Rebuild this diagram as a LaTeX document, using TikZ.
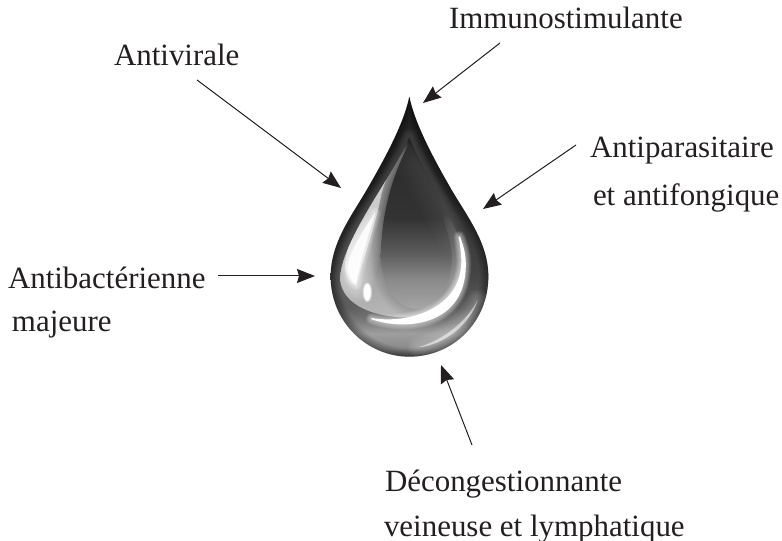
\documentclass[tikz,border=0pt]{standalone}
\usepackage{fontspec}
\setmainfont{Liberation Serif}
\usetikzlibrary{arrows.meta}
\definecolor{ink}{HTML}{231F20}
\definecolor{g22}{gray}{.13}\definecolor{g2a}{gray}{.165}\definecolor{g40}{gray}{.25}\definecolor{g44}{gray}{.27}
\definecolor{g5a}{gray}{.36}\definecolor{g66}{gray}{.42}\definecolor{g77}{gray}{.47}\definecolor{g8a}{gray}{.54}
\definecolor{g9a}{gray}{.62}\definecolor{ga5}{gray}{.65}\definecolor{gb5}{gray}{.72}\definecolor{g38}{gray}{.2}
\pgfdeclareverticalshading{bodyshade}{100bp}{color(0bp)=(g5a); color(25bp)=(g5a); color(26.5bp)=(g8a); color(29.5bp)=(g9a); color(32bp)=(g77); color(34.5bp)=(g5a); color(40.5bp)=(g44); color(59bp)=(g2a); color(75bp)=(g22); color(100bp)=(g22)}
\pgfdeclareverticalshading{lensshade}{100bp}{color(0bp)=(gb5); color(25bp)=(gb5); color(35.5bp)=(ga5); color(44.5bp)=(g77); color(53.5bp)=(g40); color(75bp)=(g2a); color(100bp)=(g2a)}
\pgfdeclareverticalshading{colshade}{100bp}{color(0bp)=(ga5); color(25bp)=(ga5); color(34bp)=(g8a); color(42bp)=(g5a); color(52.5bp)=(g38); color(75bp)=(g2a); color(100bp)=(g2a)}
\newcommand{\dropoutline}{(298,50) .. controls (282,130) and (225,235) .. (170,330) .. controls (120,415) and (62,490) .. (62,590) .. controls (62,725) and (170,830) .. (298,830) .. controls (430,830) and (535,725) .. (535,590) .. controls (535,490) and (475,415) .. (425,330) .. controls (370,235) and (314,130) .. (298,50) -- cycle}
\newcommand{\lensoutline}{(298,170) .. controls (270,260) and (90,480) .. (90,600) .. controls (100,680) and (200,712) .. (290,712) .. controls (390,712) and (462,640) .. (462,540) .. controls (462,450) and (330,270) .. (298,170) -- cycle}
\newcommand{\lefthigh}{(262,225) .. controls (225,300) and (110,440) .. (105,560) .. controls (108,590) and (120,610) .. (138,618) .. controls (165,520) and (200,420) .. (215,340) .. controls (225,300) and (250,250) .. (262,225) -- cycle}
\newcommand{\crescent}{(185,716) .. controls (290,752) and (475,735) .. (465,540) .. controls (463,510) and (455,490) .. (448,470) .. controls (452,495) and (456,520) .. (456,545) .. controls (455,690) and (290,735) .. (185,716) -- cycle}
\newcommand{\streak}{(325,802) .. controls (400,795) and (480,735) .. (503,660) .. controls (470,725) and (400,780) .. (325,802) -- cycle}
\tikzset{
  lbl/.style={anchor=base west,inner sep=0pt,outer sep=0pt,text=ink,font=\fontsize{23.2pt}{26pt}\selectfont},
  arr/.style={draw=ink,line width=0.75pt,-{Stealth[length=13.5pt,width=10.5pt,inset=1.5pt]}}
}
\begin{document}
\begin{tikzpicture}[x=0.75pt,y=-0.75pt]
\useasboundingbox (0,0) rectangle (782,541);
\begin{scope}[shift={(310,80)},x=0.25pt,y=-0.25pt]
  \begin{scope}
    \clip \dropoutline;
    \shade[shading=bodyshade] \dropoutline;
    % soft rim
    \foreach \w in {1,...,8}{\draw[black,opacity=.05,line width=\w*1.6pt] \dropoutline;}
    \foreach \w in {1,...,8}{\draw[white,opacity=.03,line width=\w*2pt,line join=round] \streak;}
    \fill[white,opacity=.55] \streak;
    % lens
    \foreach \w in {1,...,6}{\draw[gray,opacity=.05,line width=\w*2pt,line join=round] \lensoutline;}
    \shade[shading=lensshade] \lensoutline;
    \begin{scope}
      \clip \lensoutline;
      \foreach \w in {1,...,8}{\draw[white,opacity=.07,line width=\w*3pt,line join=round] \lefthigh;}
      \fill[white,opacity=.6] \lefthigh;
      \foreach \w in {1,...,6}{\draw[white,opacity=.1,line width=\w*1.5pt,line join=round] (195,400) .. controls (160,450) and (115,520) .. (112,565) .. controls (118,590) and (125,605) .. (138,612) .. controls (150,540) and (180,450) .. (195,400) -- cycle;}
      \fill[white,opacity=.9] (195,400) .. controls (160,450) and (115,520) .. (112,565) .. controls (118,590) and (125,605) .. (138,612) .. controls (150,540) and (180,450) .. (195,400) -- cycle;
      % central column
      \foreach \w in {1,...,6}{\draw[black,opacity=.02,line width=\w*2.5pt] (298,190) .. controls (250,280) and (215,390) .. (212,530) .. controls (215,610) and (250,680) .. (320,688) .. controls (390,680) and (430,610) .. (425,520) .. controls (415,420) and (340,280) .. (298,190) -- cycle;}
      \shade[shading=colshade] (298,190) .. controls (250,280) and (215,390) .. (212,530) .. controls (215,610) and (250,680) .. (320,688) .. controls (390,680) and (430,610) .. (425,520) .. controls (415,420) and (340,280) .. (298,190) -- cycle;
      \foreach \w in {1,...,6}{\draw[white,opacity=.012,line width=\w*5pt,line cap=round] (320,250) .. controls (370,340) and (420,420) .. (450,490);}
    \end{scope}
    % white crescent
    \foreach \w in {1,...,8}{\draw[white,opacity=.08,line width=\w*1.1pt,line join=round] \crescent;}
    \fill[white] \crescent;
    \draw[white,line width=1pt] \crescent;
    % oval highlight
    \foreach \w in {1,...,6}{\fill[white,opacity=.2] (172,637) ellipse [x radius=9+\w,y radius=24+\w];}
    \fill[white] (172,637) ellipse [x radius=10,y radius=25];
  \end{scope}
\end{scope}
% labels
\node[lbl] (immuno) at (449,29) {Immunostimulante};
\node[lbl] (antiv) at (114,66) {Antivirale};
\node[lbl] (antip) at (590,158) {Antiparasitaire};
\node[lbl] (antif) at (593,206) {et antifongique};
\node[lbl] (antib) at (8,289) {Antibactérienne};
\node[lbl] (maj) at (12,332) {majeure};
\node[lbl] (decong) at (385,491) {Décongestionnante};
\node[lbl] (vein) at (384,536) {veineuse et lymphatique};
% arrows
\coordinate (a1) at (500,43); \coordinate (b1) at (423,103);
\coordinate (a2) at (197,80); \coordinate (b2) at (341,188);
\coordinate (a3) at (576,145); \coordinate (b3) at (483,209);
\coordinate (a4) at (218,276); \coordinate (b4) at (315,276);
\coordinate (a5) at (472,445); \coordinate (b5) at (441,365);
\draw[arr] (a1) -- (b1);
\draw[arr] (a2) -- (b2);
\draw[arr] (a3) -- (b3);
\draw[arr] (a4) -- (b4);
\draw[arr] (a5) -- (b5);
\end{tikzpicture}
\end{document}
